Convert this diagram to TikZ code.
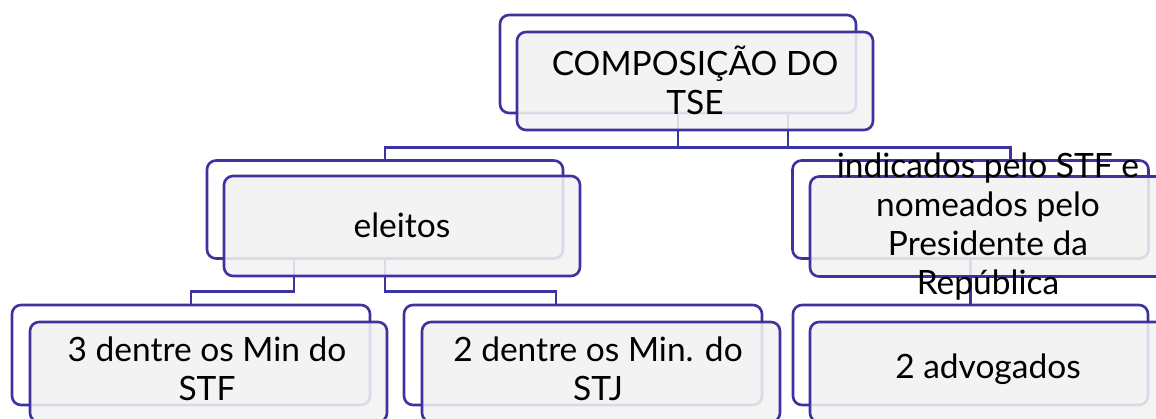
\documentclass[tikz,border=0pt]{standalone}
\usepackage{fontspec}
\setmainfont{Lato}
\definecolor{edge}{HTML}{3D33A0}
\definecolor{boxfill}{HTML}{F2F2F2}
\begin{document}
\begin{tikzpicture}[x=1pt,y=-1pt,
  back/.style={draw=edge, line width=2.6pt, rounded corners=9pt, fill=white, minimum width=356pt, minimum height=98pt, inner sep=0pt},
  front/.style={draw=edge, line width=2.6pt, rounded corners=9pt, fill=boxfill, fill opacity=0.88, draw opacity=1, minimum width=356pt, minimum height=98pt, inner sep=0pt},
  conn/.style={draw=edge, line width=2.6pt},
  lbl/.style={font=\fontsize{33.5}{39}\selectfont, align=center, text=black, inner sep=0pt}]
\useasboundingbox (0,0) rectangle (1156,418);
\clip (0,0) rectangle (1156,418);
% back boxes
\node[back] (b0) at (678,64) {};
\node[back] (b1) at (385,209.5) {};
\node[back] (b2) at (970.5,209.5) {};
\node[back, minimum width=358pt, minimum height=100pt] (b3) at (191,355) {};
\node[back, minimum width=358pt, minimum height=100pt] (b4) at (583,355) {};
\node[back, minimum width=355pt, minimum height=100pt] (b5) at (970.5,355) {};
% connectors
\coordinate (t1) at ([xshift=110pt]b0.south);
\coordinate (r1) at ([xshift=40pt]b2.north);
\coordinate (e1) at ([xshift=-91pt]b1.south);
\coordinate (m1) at ([xshift=-27pt]b4.north);
\draw[conn] (b0.south) -- ++(0,35);
\draw[conn] (t1) -- ++(0,35);
\draw[conn] (b1.north) -- ++(0,-12) -| (r1);
\draw[conn] (e1) |- ([yshift=12pt]b3.north) -- (b3.north);
\draw[conn] (b1.south) |- ([yshift=12pt]m1) -- (m1);
\draw[conn] (b2.south) -- (b5.north);
% front boxes
\node[front] (f0) at (695,81) {};
\node[front, minimum height=100pt] (f1) at (402,226) {};
\node[front, minimum height=100pt] (f2) at (988,226.5) {};
\node[front, minimum width=357pt, minimum height=100pt] (f3) at (208.5,372) {};
\node[front, minimum width=358pt, minimum height=100pt] (f4) at (601,372) {};
\node[front, minimum width=356pt, minimum height=100pt] (f5) at (988,372) {};
% labels
\node[lbl] (l0) at (695,80) {COMPOSIÇÃO DO\\TSE};
\node[lbl] (l1) at (402,225) {eleitos};
\node[lbl] (l2) at (988,227) {indicados pelo STF e\\nomeados pelo\\Presidente da\\República};
\node[lbl] (l3) at (207,369) {3 dentre os Min do\\STF};
\node[lbl] (l4) at (598,369) {2 dentre os Min. do\\STJ};
\node[lbl] (l5) at (988,369) {2 advogados};
\end{tikzpicture}
\end{document}
